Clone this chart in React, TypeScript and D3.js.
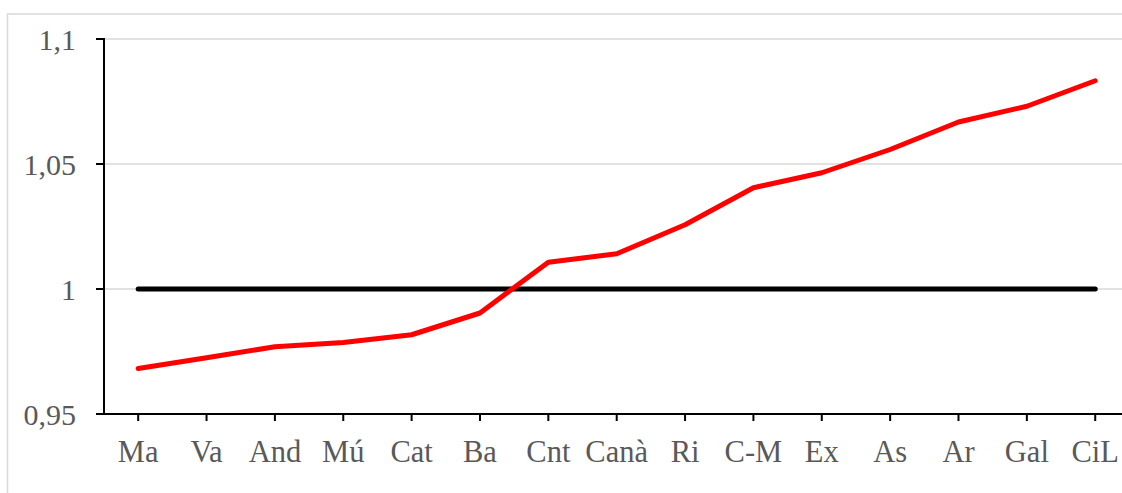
import React from "react";
import * as d3 from "d3";

const categories: string[] = ["Ma", "Va", "And", "Mú", "Cat", "Ba", "Cnt", "Canà", "Ri", "C-M", "Ex", "As", "Ar", "Gal", "CiL"];
const ratioValues: number[] = [0.9682, 0.9725, 0.9769, 0.9786, 0.9817, 0.9904, 1.0107, 1.0141, 1.0257, 1.0405, 1.0465, 1.0558, 1.0668, 1.0731, 1.0833];
const referenceValue: number = 1.0;
const yTicks: number[] = [0.95, 1.0, 1.05, 1.1];
const yTickLabels: string[] = ["0,95", "1", "1,05", "1,1"];

export default function App() {
  const W = 1122;
  const H = 493;
  const left = 104;
  const top = 39;
  const bottom = 414;
  const bandStep = 68.36;
  const right = left + bandStep * categories.length;

  const x = d3.scaleBand<string>().domain(categories).range([left, right]).padding(0);
  const y = d3.scaleLinear().domain([0.95, 1.1]).range([bottom, top]);
  const cx = (c: string) => (x(c) as number) + x.bandwidth() / 2;

  const line = d3
    .line<number>()
    .x((_, i) => cx(categories[i]))
    .y((v) => y(v));

  const refLine = d3
    .line<string>()
    .x((c) => cx(c))
    .y(() => y(referenceValue));

  const font = "'Liberation Serif', 'Times New Roman', serif";
  const grey = "#595959";

  return (
    <svg
      width={W}
      height={H}
      style={{ position: "absolute", left: 0, top: 0, background: "#fff" }}
    >
      {/* chart frame */}
      <rect x={7.5} y={14} width={W + 20} height={H + 20} fill="#fff" stroke="#d9d9d9" strokeWidth={1.5} />
      {/* gridlines */}
      {yTicks.slice(1).map((t) => (
        <line key={t} x1={left} x2={right} y1={y(t)} y2={y(t)} stroke="#d9d9d9" strokeWidth={1.5} />
      ))}
      {/* y axis */}
      <line x1={left} x2={left} y1={top - 1} y2={bottom} stroke="#000" strokeWidth={2} />
      {yTicks.map((t, i) => (
        <g key={t}>
          <line x1={left - 8} x2={left} y1={y(t)} y2={y(t)} stroke="#000" strokeWidth={2} />
          <text
            x={76}
            y={y(t)}
            dy="0.35em"
            textAnchor="end"
            fontFamily={font}
            fontSize={30}
            fill={grey}
          >
            {yTickLabels[i]}
          </text>
        </g>
      ))}
      {/* x axis */}
      <line x1={left - 8} x2={right} y1={bottom} y2={bottom} stroke="#000" strokeWidth={2} />
      {categories.map((c) => (
        <g key={c}>
          <line x1={cx(c)} x2={cx(c)} y1={bottom} y2={bottom + 7} stroke="#000" strokeWidth={2} />
          <text
            x={cx(c)}
            y={462}
            textAnchor="middle"
            fontFamily={font}
            fontSize={30.5}
            fill={grey}
          >
            {c}
          </text>
        </g>
      ))}
      {/* reference line */}
      <path d={refLine(categories) || ""} fill="none" stroke="#000" strokeWidth={5} strokeLinecap="round" />
      {/* ratio line */}
      <path
        d={line(ratioValues) || ""}
        fill="none"
        stroke="#ff0000"
        strokeWidth={5}
        strokeLinecap="round"
        strokeLinejoin="round"
      />
    </svg>
  );
}
